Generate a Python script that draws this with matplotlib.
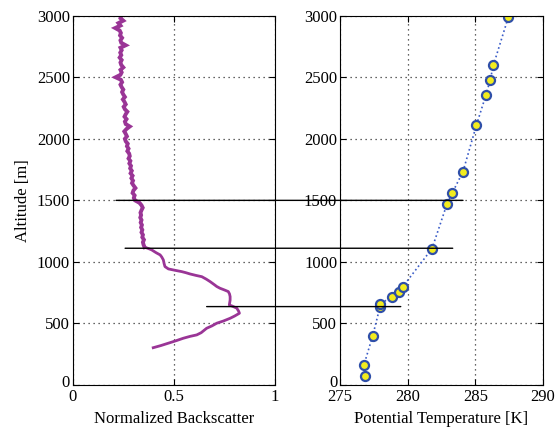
import matplotlib
matplotlib.use("Agg")
import matplotlib.pyplot as plt
from matplotlib.patches import ConnectionPatch
from matplotlib.transforms import ScaledTranslation

plt.rcParams['font.family'] = ['Liberation Serif', 'DejaVu Serif']
plt.rcParams['font.size'] = 12

# Backscatter profile (normalized) vs altitude [m]
bs_alt = [303, 320, 344, 362, 380, 395, 407, 425, 445, 461, 480, 502, 520, 542, 560,
          583, 600, 624, 640, 650, 670, 690, 718, 740, 759, 772, 786, 800, 815, 840,
          860, 880, 890, 902, 912, 921, 932, 943, 962, 985, 1016, 1040, 1057, 1075,
          1098, 1110,
          1120, 1140, 1160, 1180, 1200, 1220, 1240, 1260, 1280, 1300, 1320, 1340,
          1360, 1380, 1400, 1420, 1440, 1460, 1480, 1500, 1520, 1540, 1560, 1580,
          1600, 1620, 1640, 1660, 1680, 1700, 1720, 1740, 1760, 1780, 1800, 1820,
          1840, 1860, 1880, 1900, 1920, 1940, 1960, 1980, 2000, 2020, 2040, 2060,
          2080, 2100, 2120, 2140, 2160, 2180, 2200, 2220, 2240, 2260, 2280, 2300,
          2320, 2340, 2360, 2380, 2400, 2420, 2440, 2460, 2480, 2500, 2520, 2540,
          2560, 2580, 2600, 2620, 2640, 2660, 2680, 2700, 2720, 2740, 2760, 2780,
          2800, 2820, 2840, 2860, 2880, 2900, 2920, 2940, 2960, 2980, 3000]
bs_val = [0.398, 0.435, 0.481, 0.515, 0.547, 0.580, 0.613, 0.635, 0.650, 0.662, 0.688,
          0.712, 0.745, 0.778, 0.800, 0.824, 0.820, 0.811, 0.790, 0.774, 0.776, 0.778,
          0.778, 0.775, 0.769, 0.750, 0.728, 0.712, 0.700, 0.679, 0.660, 0.638, 0.610,
          0.580, 0.560, 0.539, 0.505, 0.473, 0.456, 0.452, 0.448, 0.440, 0.432, 0.412,
          0.390, 0.372,
          0.355, 0.350, 0.347, 0.352, 0.344, 0.347, 0.340, 0.344, 0.338, 0.342, 0.336,
          0.340, 0.334, 0.338, 0.335, 0.340, 0.346, 0.340, 0.330, 0.308, 0.302, 0.306,
          0.296, 0.300, 0.310, 0.301, 0.293, 0.298, 0.290, 0.296, 0.286, 0.292, 0.284,
          0.288, 0.280, 0.285, 0.276, 0.282, 0.279, 0.270, 0.276, 0.268, 0.272, 0.262,
          0.258, 0.268, 0.262, 0.255, 0.266, 0.282, 0.262, 0.258, 0.266, 0.256, 0.262,
          0.270, 0.258, 0.252, 0.262, 0.256, 0.248, 0.258, 0.250, 0.244, 0.250, 0.242,
          0.236, 0.244, 0.238, 0.212, 0.236, 0.242, 0.236, 0.250, 0.240, 0.236, 0.242,
          0.232, 0.240, 0.235, 0.242, 0.236, 0.262, 0.240, 0.236, 0.244, 0.234, 0.238,
          0.232, 0.210, 0.236, 0.226, 0.250, 0.236, 0.240]

# Potential temperature soundings [K] vs altitude [m]
theta_alt = [73, 163, 401, 637, 656, 718, 759, 797, 1108, 1472, 1561, 1734,
             2111, 2358, 2474, 2596, 2989]
theta_val = [276.85, 276.77, 277.42, 277.96, 277.96, 278.82, 279.39, 279.63,
             281.80, 282.91, 283.30, 284.09, 285.08, 285.79, 286.09, 286.33, 287.44]

# Layer markers linking both panels: altitude, left-panel start, right-panel end
layer_alt = [1500, 1111, 637]
layer_bs = [0.214, 0.259, 0.662]
layer_theta = [284.09, 283.33, 279.49]

fig = plt.figure(figsize=(5.58, 4.32), dpi=100)
ax1 = fig.add_axes([0.1303, 0.1088, 0.3626, 0.8548])
ax2 = fig.add_axes([0.6093, 0.1088, 0.3638, 0.8548])

# smooth lower part drawn thinner, noisy upper part thicker
split = bs_alt.index(1120)
ax1.plot(bs_val[:split + 1], bs_alt[:split + 1], color='#9a3596', lw=2.0)
ax1.plot(bs_val[split:], bs_alt[split:], color='#9a3596', lw=2.8,
         solid_joinstyle='miter')
ax1.set_xlim(0, 1)
ax1.set_ylim(0, 3000)
ax1.set_xticks([0, 0.5, 1])
ax1.set_xticklabels(['0', '0.5', '1'])
ax1.set_xlabel('Normalized Backscatter')
ax1.set_ylabel('Altitude [m]')

ax2.plot(theta_val, theta_alt, ls=':', color='#3a5cc8', lw=1.2,
         marker='o', ms=6.5, mfc='#f2ec1e', mec='#2f4fa8', mew=1.6)
ax2.set_xlim(275, 290)
ax2.set_ylim(0, 3000)
ax2.set_xticks([275, 280, 285, 290])
ax2.set_xlabel('Potential Temperature [K]')

lift = ScaledTranslation(0, 3 / 72, fig.dpi_scale_trans)
for ax in (ax1, ax2):
    ax.set_yticks(range(0, 3001, 500))
    ax.grid(True, ls=(0, (1, 3)), color='#333333', lw=0.9)
    ax.tick_params(direction='in', length=4, top=True, right=True, pad=3)
    ax.tick_params(axis='y', pad=2)
    for s in ax.spines.values():
        s.set_linewidth(0.8)
    # nudge the bottom y label up a few pixels
    lab = ax.yaxis.get_major_ticks()[0].label1
    lab.set_transform(lab.get_transform() + lift)

for a, xb, xt in zip(layer_alt, layer_bs, layer_theta):
    con = ConnectionPatch(xyA=(xb, a), coordsA=ax1.transData,
                          xyB=(xt, a), coordsB=ax2.transData,
                          color='black', lw=1.0)
    fig.add_artist(con)

fig.savefig('out.png', dpi=100)
